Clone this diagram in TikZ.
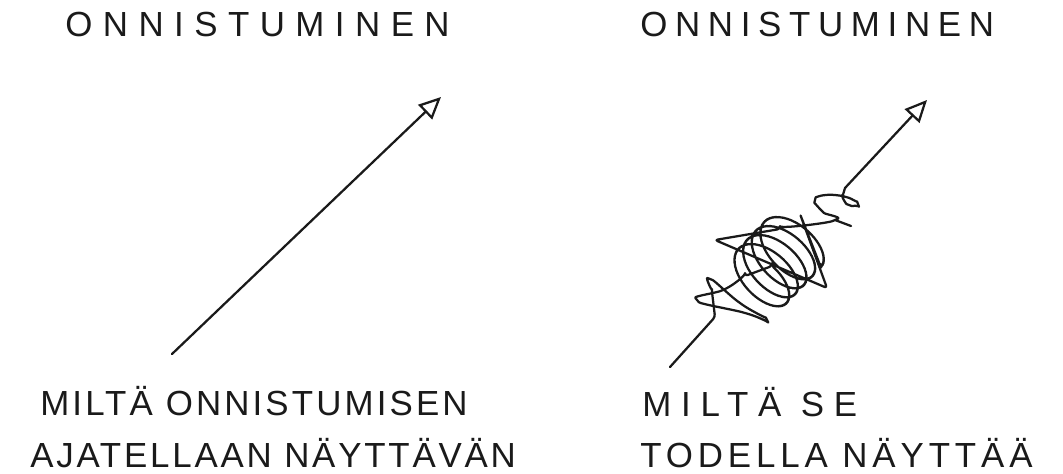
\documentclass[tikz,border=0pt]{standalone}
\usepackage{fontspec}
\newfontfamily\kasiFontti{Liberation Sans}
\definecolor{kynaMusta}{HTML}{1A1A1A}
\usepackage{tikz}
\usetikzlibrary{
	arrows.meta
}
\tikzset{
	viivaKyna/.style={
		draw=kynaMusta,
		line width=1.6pt,
		line cap=round,
		line join=round
	},
	nuoliKyna/.style={
		viivaKyna,
		-{Triangle[open, length=5.5mm, width=5mm]}
	},
	kasiTeksti/.style={
		text=kynaMusta,
		inner sep=0pt,
		anchor=base west,
		font={\kasiFontti\fontsize{24.8}{30}\selectfont\addfontfeatures{LetterSpace=#1}}
	}
}
\begin{document}
\begin{tikzpicture}[x=0.025cm, y=-0.025cm]
		\useasboundingbox (0,0) rectangle (1063,473);
		% otsikot
		\node[kasiTeksti=30] (otsikkoVasen) at (65,37) {ONNISTUMINEN};
		\node[kasiTeksti=22] (otsikkoOikea) at (640,37) {ONNISTUMINEN};
		% vasen: suora nuoli
		\coordinate (alkuVasen) at (172,354);
		\coordinate (karkiVasen) at (441,97);
		\draw[nuoliKyna] (alkuVasen) -- (karkiVasen);
		% oikea: sotkuinen nuoli
		\coordinate (alkuOikea) at (670,367);
		\coordinate (sotkuAlku) at (715,317);
		\coordinate (sotkuLoppu) at (845,188);
		\coordinate (karkiOikea) at (927,100);
		\draw[viivaKyna, rounded corners=2pt] (alkuOikea) -- (sotkuAlku)
			-- plot[smooth, tension=0.6] coordinates {(712,292) (710,279) (740,303) (767,320) (745,313) (697,300) (725,289) (745,276)}
			-- plot[domain=0:1530, samples=200, smooth] ({772+0.69*(50*(\x/1440)+20*cos(\x)-20)+0.72*36*sin(\x)}, {266-0.72*(50*(\x/1440)+20*cos(\x)-20)+0.69*36*sin(\x)})
			-- (800,214) -- (827,288) -- (715,240)
			-- plot[smooth, tension=0.6] coordinates {(780,229) (835,220) (822,211) (815,200) (826,195) (846,197) (858,204) (849,205) (842,198)}
			-- (sotkuLoppu);
		\draw[viivaKyna] (835,220) -- (851,226);
		\draw[nuoliKyna] (sotkuLoppu) -- (karkiOikea);
		% selitykset
		\node[kasiTeksti=9] (selitysVasen1) at (40,415) {MILTÄ ONNISTUMISEN};
		\node[kasiTeksti=8] (selitysVasen2) at (30,467) {AJATELLAAN NÄYTTÄVÄN};
		\node[kasiTeksti=28] (selitysOikea1) at (642,416) {MILTÄ SE};
		\node[kasiTeksti=14] (selitysOikea2) at (640,467) {TODELLA NÄYTTÄÄ};
	\end{tikzpicture}
\end{document}
